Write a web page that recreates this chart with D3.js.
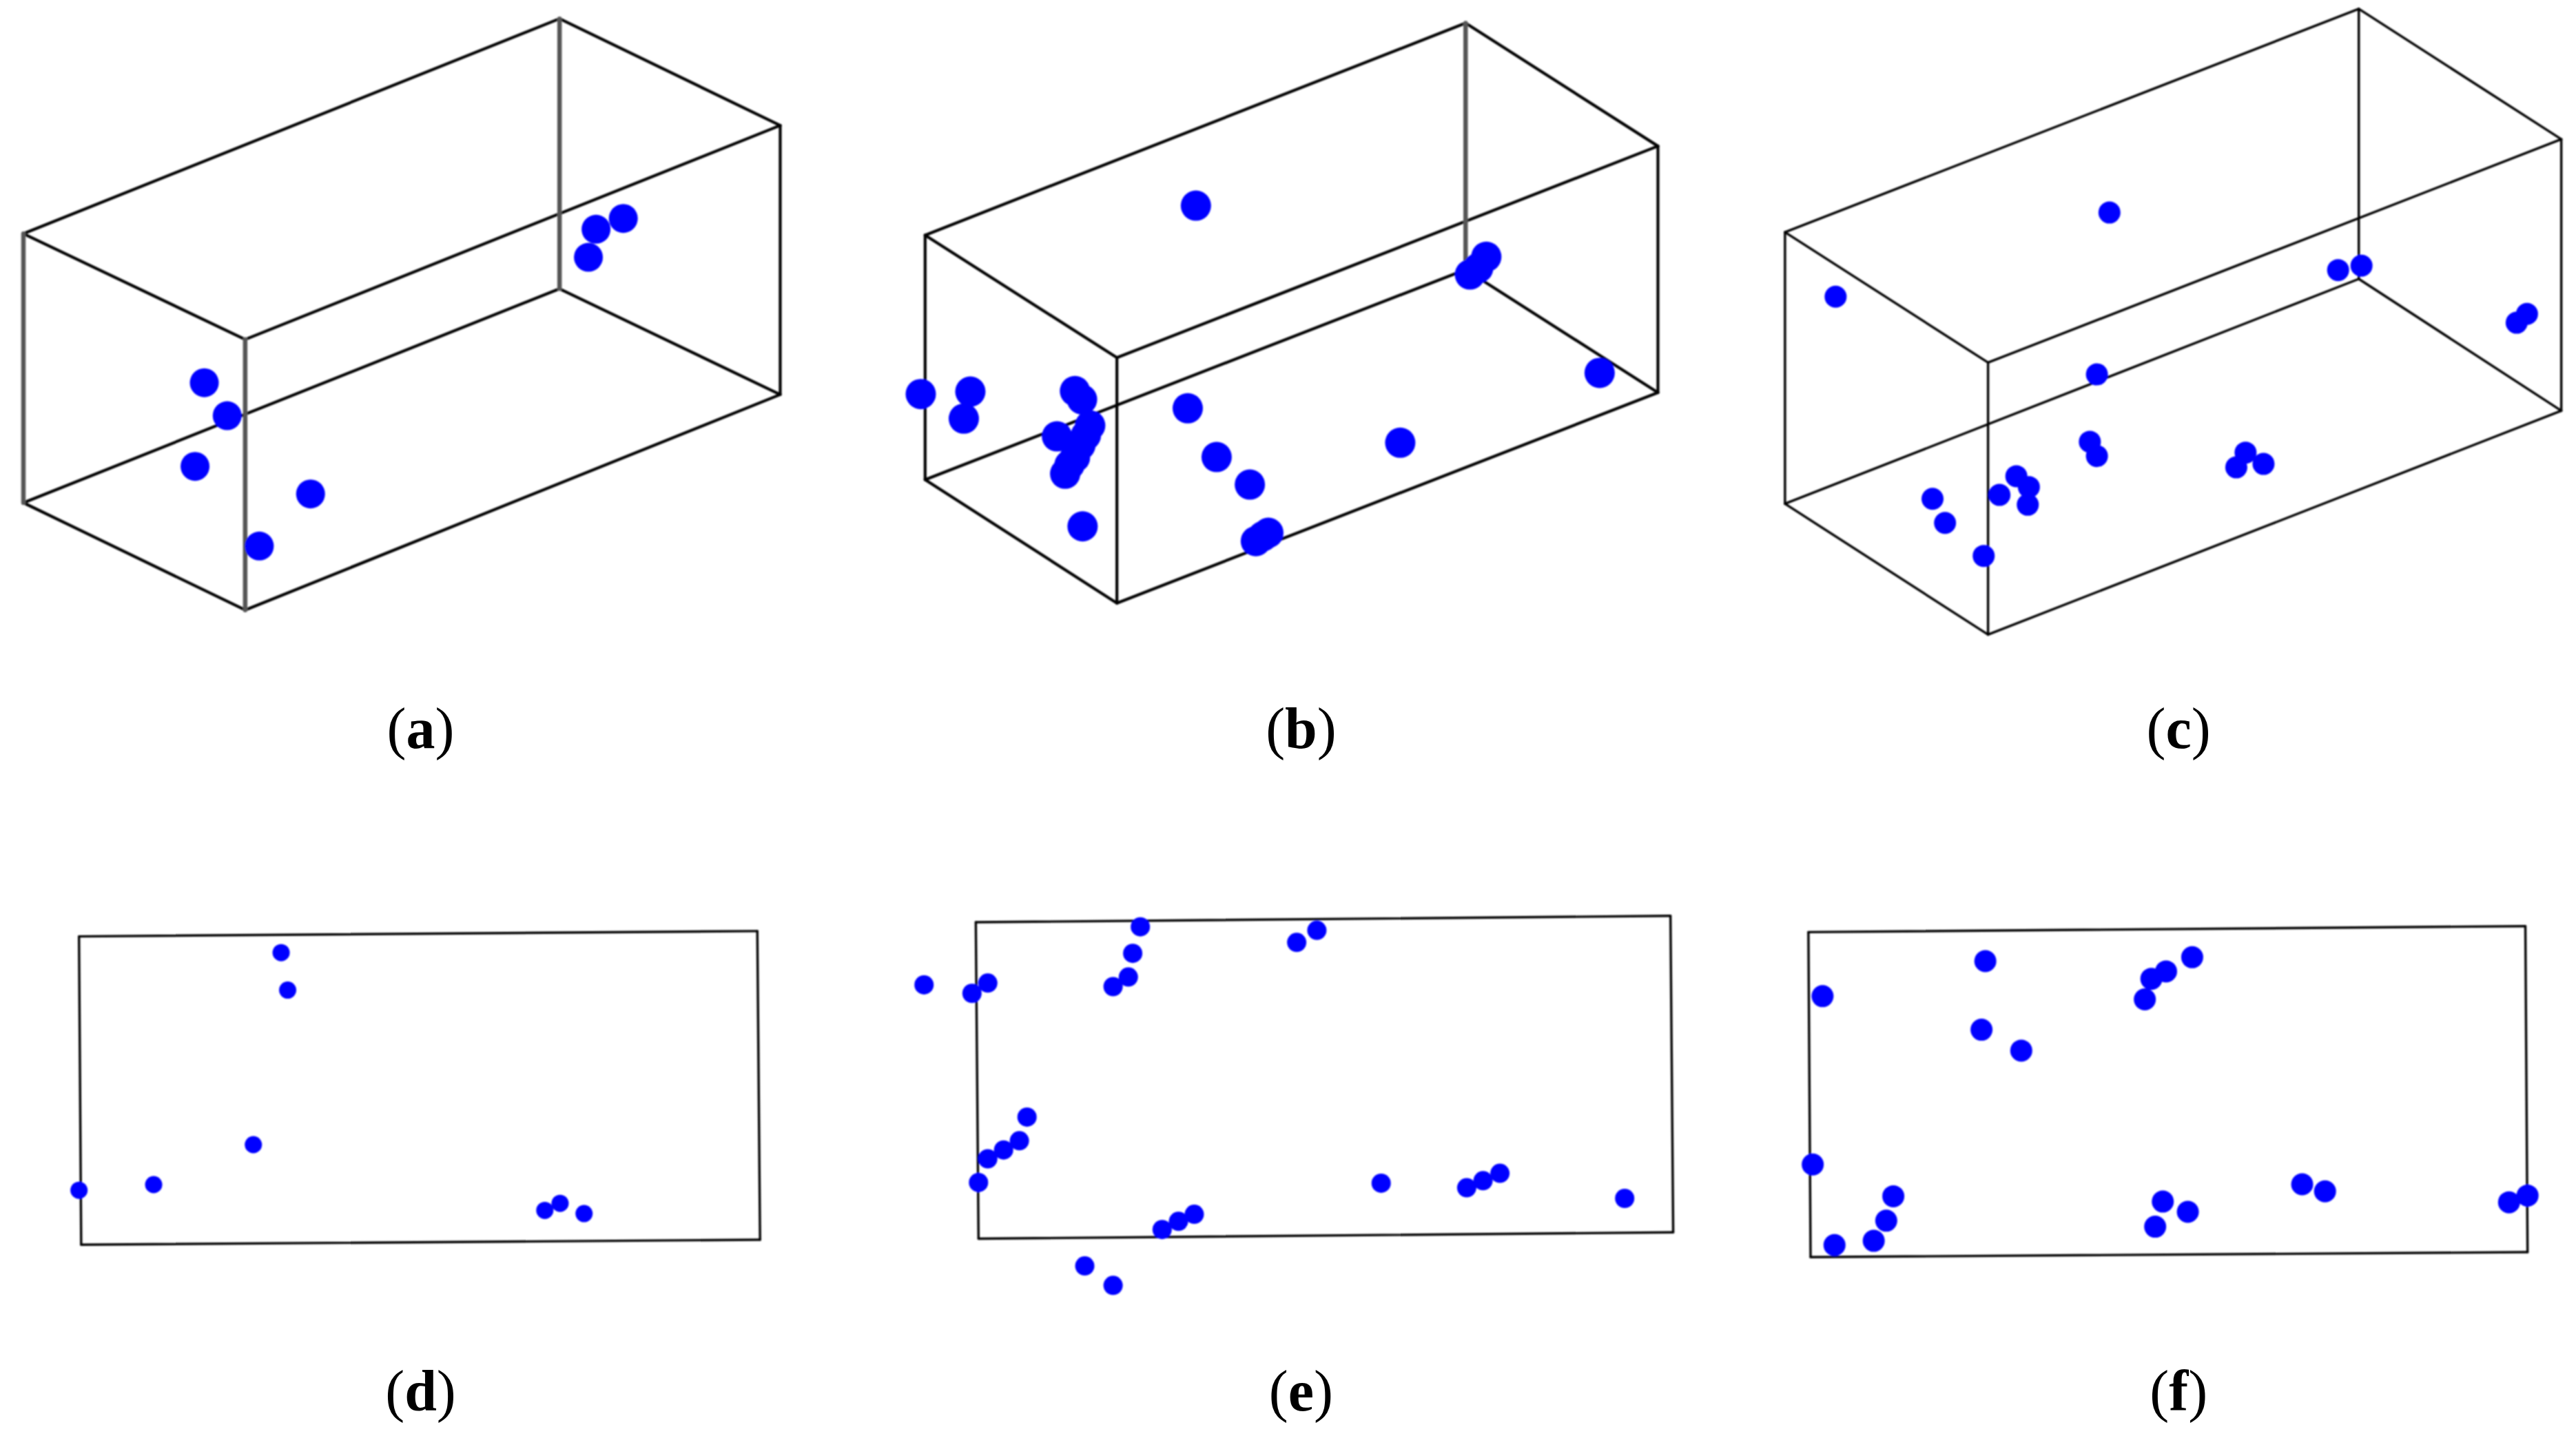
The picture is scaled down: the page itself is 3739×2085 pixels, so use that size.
<!DOCTYPE html>
<html>
<head>
<meta charset="utf-8">
<script src="https://cdn.jsdelivr.net/npm/d3@7"></script>
<style>
  html, body { margin: 0; padding: 0; background: #fff; }
  svg { display: block; }
</style>
</head>
<body>
<svg id="chart"></svg>
<script>
// panel letters under each plot
const panelLetters = ["a", "b", "c", "d", "e", "f"];

// projected points of every panel (panel units 0..1568)
const pointsA = [[375,778],[417,845],[358,948],[570,1004],[476,1110],[1080,523],[1094,466],[1144,444]];
const pointsB = [[627,418],[122,801],[213,796],[201,851],[405,795],[418,812],[433,865],[425,885],[372,887],[415,905],[405,930],[395,945],[387,963],[419,1070],[612,830],[665,929],[726,985],[1002,900],[760,1083],[737,1100],[750,1090],[1160,522],[1145,545],[1130,558],[1368,758]];
const pointsC = [[711,432],[208,603],[1131,549],[1174,540],[1459,656],[1478,638],[688,761],[675,898],[688,927],[540,968],[563,990],[561,1026],[509,1006],[386,1014],[409,1063],[480,1130],[961,920],[944,950],[994,943]];
const pointsD = [[516,201],[528,307],[465,744],[282,857],[145,873],[1000,930],[1028,910],[1072,939]];
const pointsE = [[525,128],[511,203],[503,270],[475,297],[128,292],[216,316],[245,287],[812,172],[849,138],[317,666],[303,733],[274,759],[245,784],[228,851],[624,941],[595,961],[565,984],[423,1087],[475,1142],[967,853],[1124,866],[1154,846],[1185,825],[1414,896]];
const pointsF = [[483,225],[184,324],[476,419],[549,478],[863,214],[815,254],[788,275],[776,333],[166,800],[314,890],[301,959],[278,1016],[206,1028],[809,905],[855,934],[795,976],[1065,856],[1107,876],[1445,907],[1479,888]];

// frame corners: boxes go top face then bottom face, rectangles go clockwise
const cornersA = [[43,475],[450,690],[1027,38],[1432,255],[43,1022],[450,1240],[1027,587],[1432,802]];
const cornersB = [[130,478],[482,727],[1122,47],[1475,297],[130,975],[482,1226],[1122,548],[1475,798]];
const cornersC = [[115,472],[488,737],[1169,18],[1541,283],[115,1024],[488,1290],[1169,567],[1541,835]];
const cornersD = [[145,155],[1390,140],[1395,1013],[149,1027]];
const cornersE = [[223,115],[1498,97],[1503,992],[228,1010]];
const cornersF = [[158,143],[1475,126],[1479,1048],[162,1062]];

const boxEdges = [[0,1],[0,2],[1,3],[2,3],[4,5],[4,6],[5,7],[6,7],[0,4],[1,5],[2,6],[3,7]];
const rectEdges = [[0,1],[1,2],[2,3],[3,0]];

const width = 3739;
const height = 2085;
const unitMax = 1568;

const topRow = { top: 0, h: 1120, labelY: 1520 };
const bottomRow = { top: 1280, h: 805, labelY: 1495 };

// softEdges: vertical lines that look wider and grey in the picture
const panels = [
  { points: pointsA, corners: cornersA, edges: boxEdges, left: 0, w: 1240, row: topRow, r: 21, stroke: 4.2, softEdges: [8, 9, 10], labelX: 772 },
  { points: pointsB, corners: cornersB, edges: boxEdges, left: 1240, w: 1240, row: topRow, r: 22, stroke: 4.2, softEdges: [10], labelX: 820 },
  { points: pointsC, corners: cornersC, edges: boxEdges, left: 2500, w: 1239, row: topRow, r: 16, stroke: 3.4, softEdges: [], labelX: 838 },
  { points: pointsD, corners: cornersD, edges: rectEdges, left: 0, w: 1240, row: bottomRow, r: 12.5, stroke: 3.4, softEdges: [], labelX: 772 },
  { points: pointsE, corners: cornersE, edges: rectEdges, left: 1240, w: 1240, row: bottomRow, r: 14, stroke: 3.4, softEdges: [], labelX: 820 },
  { points: pointsF, corners: cornersF, edges: rectEdges, left: 2500, w: 1239, row: bottomRow, r: 16, stroke: 3.4, softEdges: [], labelX: 838 },
];

const svg = d3.select("#chart").attr("width", width).attr("height", height);

svg.append("rect").attr("width", width).attr("height", height).attr("fill", "#fff");

// the source is an upscaled bitmap, so every mark has a slightly soft edge
svg.append("defs")
  .append("filter")
  .attr("id", "soft")
  .append("feGaussianBlur")
  .attr("stdDeviation", 0.8);

panels.forEach((panel, i) => {
  const x = d3.scaleLinear().domain([0, unitMax]).range([panel.left, panel.left + panel.w]);
  const y = d3.scaleLinear().domain([0, unitMax]).range([panel.row.top, panel.row.top + panel.row.h]);
  const g = svg.append("g").attr("class", `panel-${panelLetters[i]}`);
  const marks = g.append("g").attr("filter", "url(#soft)");

  // wire frame
  marks.selectAll("line")
    .data(panel.edges)
    .join("line")
    .attr("x1", (d) => x(panel.corners[d[0]][0]))
    .attr("y1", (d) => y(panel.corners[d[0]][1]))
    .attr("x2", (d) => x(panel.corners[d[1]][0]))
    .attr("y2", (d) => y(panel.corners[d[1]][1]))
    .attr("stroke", (d, j) => (panel.softEdges.includes(j) ? "#555" : "#000"))
    .attr("stroke-width", (d, j) => (panel.softEdges.includes(j) ? 6.5 : panel.stroke))
    .attr("stroke-linecap", "round");

  // points
  marks.selectAll("circle")
    .data(panel.points)
    .join("circle")
    .attr("cx", (d) => x(d[0]))
    .attr("cy", (d) => y(d[1]))
    .attr("r", panel.r)
    .attr("fill", "#0000ff");

  // (a), (b) ... letter is bold, brackets are not
  const label = g.append("text")
    .attr("x", x(panel.labelX))
    .attr("y", y(panel.row.labelY))
    .attr("text-anchor", "middle")
    .attr("font-family", "'Liberation Serif', serif")
    .attr("font-size", 84)
    .attr("fill", "#000");
  label.append("tspan").text("(");
  label.append("tspan").attr("font-weight", "bold").text(panelLetters[i]);
  label.append("tspan").text(")");
});
</script>
</body>
</html>
